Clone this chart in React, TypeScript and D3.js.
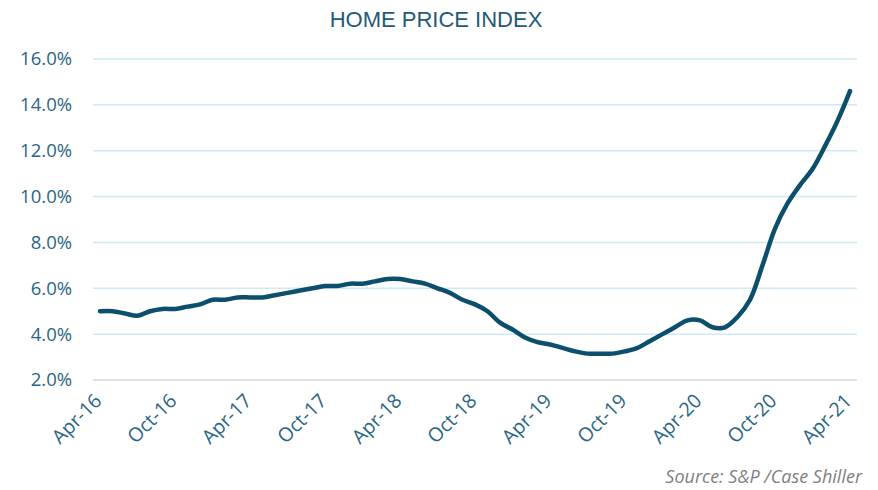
import React, { useEffect, useRef } from "react";
import * as d3 from "d3";

const months = [
  "Apr-16", "May-16", "Jun-16", "Jul-16", "Aug-16", "Sep-16", "Oct-16", "Nov-16", "Dec-16", "Jan-17", "Feb-17", "Mar-17",
  "Apr-17", "May-17", "Jun-17", "Jul-17", "Aug-17", "Sep-17", "Oct-17", "Nov-17", "Dec-17", "Jan-18", "Feb-18", "Mar-18",
  "Apr-18", "May-18", "Jun-18", "Jul-18", "Aug-18", "Sep-18", "Oct-18", "Nov-18", "Dec-18", "Jan-19", "Feb-19", "Mar-19",
  "Apr-19", "May-19", "Jun-19", "Jul-19", "Aug-19", "Sep-19", "Oct-19", "Nov-19", "Dec-19", "Jan-20", "Feb-20", "Mar-20",
  "Apr-20", "May-20", "Jun-20", "Jul-20", "Aug-20", "Sep-20", "Oct-20", "Nov-20", "Dec-20", "Jan-21", "Feb-21", "Mar-21",
  "Apr-21",
];

const hpi = [
  5.0, 5.0, 4.9, 4.8, 5.0, 5.1, 5.1, 5.2, 5.3, 5.5, 5.5, 5.6,
  5.6, 5.6, 5.7, 5.8, 5.9, 6.0, 6.1, 6.1, 6.2, 6.2, 6.3, 6.4,
  6.4, 6.3, 6.2, 6.0, 5.8, 5.5, 5.3, 5.0, 4.5, 4.2, 3.85, 3.65,
  3.55, 3.4, 3.25, 3.15, 3.15, 3.15, 3.25, 3.4, 3.7, 4.0, 4.3, 4.6,
  4.6, 4.3, 4.3, 4.75, 5.5, 7.0, 8.6, 9.7, 10.5, 11.2, 12.2, 13.3,
  14.6,
];

const yTicks = [2, 4, 6, 8, 10, 12, 14, 16];
const xTickLabels = ["Apr-16", "Oct-16", "Apr-17", "Oct-17", "Apr-18", "Oct-18", "Apr-19", "Oct-19", "Apr-20", "Oct-20", "Apr-21"];

const W = 878;
const H = 490;

export default function App() {
  const svgRef = useRef<SVGSVGElement>(null);

  useEffect(() => {
    if (!svgRef.current) return;
    const svg = d3.select(svgRef.current);
    svg.selectAll("*").remove();

    const x = d3.scalePoint<string>().domain(months).range([100, 850]);
    const y = d3.scaleLinear().domain([2, 16]).range([380, 59]);

    // title
    svg.append("text")
      .attr("x", 436)
      .attr("y", 27)
      .attr("text-anchor", "middle")
      .style("font-family", "'Liberation Sans Narrow', 'Liberation Sans', sans-serif")
      .style("font-size", "22px")
      .style("fill", "#1f5a78")
      .text("HOME PRICE INDEX");

    // gridlines
    svg.append("g")
      .selectAll("line")
      .data(yTicks)
      .enter()
      .append("line")
      .attr("x1", 93)
      .attr("x2", 857)
      .attr("y1", d => y(d))
      .attr("y2", d => y(d))
      .attr("stroke", d => (d === 2 ? "#d9d9d9" : "#cdeaf7"))
      .attr("stroke-width", 1.5);

    // y labels
    svg.append("g")
      .selectAll("text")
      .data(yTicks)
      .enter()
      .append("text")
      .attr("x", 72)
      .attr("y", d => y(d))
      .attr("dy", "0.35em")
      .attr("text-anchor", "end")
      .style("font-family", "'Open Sans', sans-serif")
      .style("font-size", "18.5px")
      .style("fill", "#2a6585")
      .text(d => d.toFixed(1) + "%");

    // x labels
    svg.append("g")
      .selectAll("text")
      .data(xTickLabels)
      .enter()
      .append("text")
      .attr("transform", d => `translate(${(x(d) || 0) + 3},${402}) rotate(-45)`)
      .attr("text-anchor", "end")
      .style("font-family", "'Open Sans', sans-serif")
      .style("font-size", "19.5px")
      .style("fill", "#2a6585")
      .text(d => d);

    // line
    const line = d3.line<number>()
      .x((_, i) => x(months[i]) || 0)
      .y(d => y(d))
      .curve(d3.curveCatmullRom.alpha(0.5));

    svg.append("path")
      .datum(hpi)
      .attr("d", line)
      .attr("fill", "none")
      .attr("stroke", "#0b4f6c")
      .attr("stroke-width", 4.5)
      .attr("stroke-linecap", "round")
      .attr("stroke-linejoin", "round");

    // source
    svg.append("text")
      .attr("x", 862)
      .attr("y", 483)
      .attr("text-anchor", "end")
      .style("font-family", "'Open Sans', sans-serif")
      .style("font-style", "italic")
      .style("font-size", "18px")
      .style("fill", "#7f7f7f")
      .text("Source: S&P /Case Shiller");
  }, []);

  return (
    <svg
      ref={svgRef}
      width={W}
      height={H}
      style={{ position: "absolute", left: 0, top: 0, background: "#fff" }}
    />
  );
}
